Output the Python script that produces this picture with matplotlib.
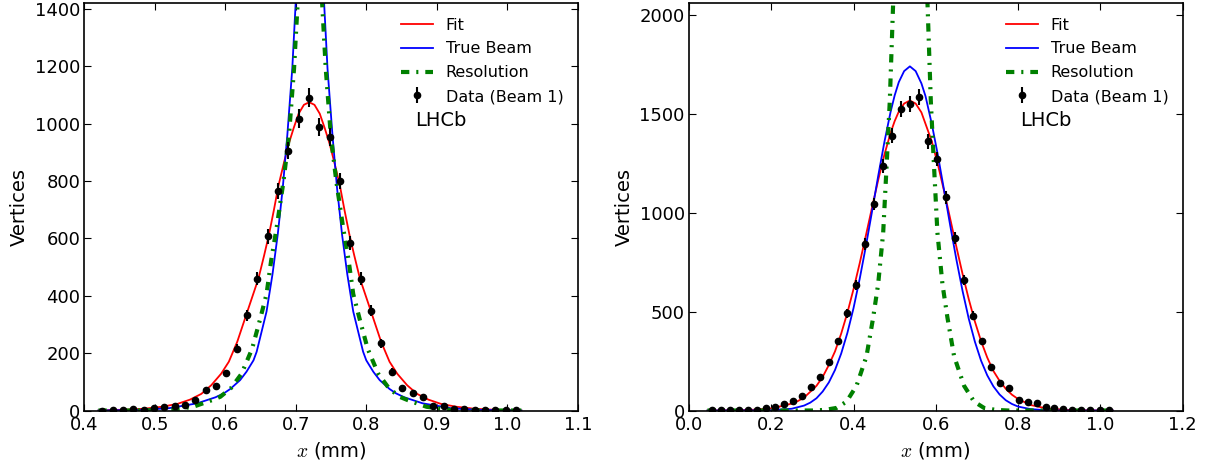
import matplotlib
matplotlib.use("Agg")
import matplotlib.pyplot as plt
import numpy as np

# --- DATA ---
# left panel, data points
left_x = [0.425, 0.440, 0.455, 0.469, 0.484, 0.499, 0.513, 0.528, 0.543, 0.557,
          0.572, 0.587, 0.601, 0.616, 0.631, 0.645, 0.660, 0.675, 0.689, 0.704,
          0.719, 0.733, 0.748, 0.763, 0.777, 0.792, 0.807, 0.821, 0.836, 0.851,
          0.866, 0.880, 0.895, 0.910, 0.924, 0.939, 0.954, 0.968, 0.983, 0.998, 1.013]
left_n = [0, 2, 2, 4, 3, 8, 12, 17, 20, 38,
          70, 85, 130, 216, 332, 460, 607, 766, 906, 1018,
          1091, 988, 954, 801, 583, 460, 348, 235, 136, 79,
          62, 46, 16, 16, 4, 6, 2, 3, 3, 3, 1]

# left panel, curves
fit_l_x = [0.420, 0.429, 0.460, 0.484, 0.510, 0.532, 0.550, 0.566, 0.580, 0.594,
           0.605, 0.617, 0.631, 0.647, 0.655, 0.662, 0.669, 0.6755, 0.683, 0.690,
           0.697, 0.704, 0.7115, 0.719, 0.7265, 0.734, 0.741, 0.748, 0.755, 0.7625,
           0.769, 0.776, 0.783, 0.791, 0.807, 0.821, 0.833, 0.844, 0.858, 0.872,
           0.888, 0.906, 0.928, 0.954, 0.978, 1.009, 1.020]
fit_l_y = [0, 1, 3, 6, 13, 23, 38, 58, 88, 128,
           170, 240, 343, 460, 540, 614, 700, 785, 862, 930,
           985, 1035, 1066, 1075, 1066, 1035, 985, 930, 862, 785,
           700, 614, 540, 460, 343, 240, 170, 128, 88, 58,
           38, 23, 13, 6, 3, 1, 0]

true_l_x = [0.420, 0.480, 0.520, 0.560, 0.586, 0.598, 0.607, 0.621, 0.630, 0.640,
            0.6445, 0.649, 0.6585, 0.667, 0.6744, 0.6815, 0.688, 0.695, 0.6997, 0.708,
            0.720, 0.732, 0.7403, 0.745, 0.752, 0.7585, 0.7656, 0.773, 0.7815, 0.791,
            0.7955, 0.800, 0.810, 0.819, 0.833, 0.842, 0.854, 0.880, 0.920, 0.960, 1.020]
true_l_y = [0, 2, 8, 25, 46, 60, 75, 106, 135, 175,
            205, 250, 345, 476, 614, 776, 961, 1192, 1415, 1900,
            2300, 1900, 1415, 1192, 961, 776, 614, 476, 345, 250,
            205, 175, 135, 106, 75, 60, 46, 25, 8, 2, 0]

res_l_x = [0.420, 0.470, 0.521, 0.5545, 0.581, 0.593, 0.608, 0.623, 0.638, 0.649,
           0.6585, 0.665, 0.6728, 0.6826, 0.6904, 0.6975, 0.7025, 0.710, 0.720, 0.730,
           0.7375, 0.7425, 0.7496, 0.7574, 0.7672, 0.775, 0.7815, 0.791, 0.802, 0.817,
           0.832, 0.847, 0.859, 0.8855, 0.919, 0.970, 1.020]
res_l_y = [0, 0, 2, 13, 36, 48, 78, 128, 215, 315,
           406, 522, 637, 800, 961, 1192, 1415, 2000, 2600, 2000,
           1415, 1192, 961, 800, 637, 522, 406, 315, 215, 128,
           78, 48, 36, 13, 2, 0, 0]

# right panel, data points
right_x = [0.055, 0.077, 0.099, 0.121, 0.143, 0.165, 0.187, 0.208, 0.230, 0.252,
           0.274, 0.296, 0.318, 0.340, 0.362, 0.384, 0.406, 0.428, 0.450, 0.472,
           0.494, 0.516, 0.537, 0.559, 0.581, 0.603, 0.625, 0.647, 0.669, 0.691,
           0.713, 0.735, 0.757, 0.779, 0.801, 0.823, 0.845, 0.867, 0.888, 0.910,
           0.932, 0.954, 0.976, 0.998, 1.020]
right_n = [2, 2, 2, 4, 4, 5, 13, 16, 34, 49,
           72, 117, 168, 247, 350, 492, 637, 843, 1045, 1236,
           1391, 1526, 1551, 1585, 1362, 1274, 1078, 873, 660, 480,
           350, 218, 137, 112, 55, 45, 36, 16, 13, 10,
           5, 5, 5, 5, 2]

# right panel, curves
fit_r_x = [0.045, 0.150, 0.200, 0.250, 0.265, 0.280, 0.295, 0.310, 0.325, 0.340,
           0.355, 0.370, 0.385, 0.400, 0.415, 0.430, 0.445, 0.460, 0.475, 0.490,
           0.500, 0.510, 0.523, 0.537, 0.551, 0.565, 0.575, 0.590, 0.605, 0.620,
           0.635, 0.650, 0.665, 0.680, 0.695, 0.710, 0.725, 0.740, 0.755, 0.770,
           0.785, 0.800, 0.830, 0.870, 0.920, 1.000, 1.030]
fit_r_y = [0, 3, 10, 35, 48, 66, 95, 125, 170, 230,
           299, 389, 494, 614, 745, 885, 1027, 1166, 1294, 1404,
           1464, 1512, 1553, 1568, 1553, 1508, 1450, 1363, 1245, 1111,
           970, 828, 691, 564, 450, 351, 268, 200, 150, 110,
           80, 58, 28, 10, 3, 0, 0]

true_r_x = [0.045, 0.200, 0.250, 0.280, 0.295, 0.310, 0.325, 0.340, 0.355, 0.370,
            0.385, 0.400, 0.415, 0.430, 0.445, 0.460, 0.475, 0.490, 0.500, 0.510,
            0.523, 0.537, 0.551, 0.565, 0.575, 0.590, 0.605, 0.620, 0.635, 0.650,
            0.665, 0.680, 0.695, 0.710, 0.725, 0.740, 0.755, 0.770, 0.785, 0.800,
            0.830, 0.870, 0.920, 1.030]
true_r_y = [0, 1, 9, 25, 40, 62, 96, 142, 205, 288,
            392, 518, 666, 831, 1007, 1187, 1358, 1510, 1594, 1661,
            1717, 1741, 1717, 1655, 1590, 1452, 1292, 1116, 936, 764,
            605, 465, 348, 252, 178, 122, 81, 52, 33, 20,
            7, 1, 0, 0]

res_r_x = [0.045, 0.300, 0.330, 0.3587, 0.383, 0.4073, 0.4316, 0.4478, 0.4599, 0.4721,
           0.4802, 0.4882, 0.4963, 0.510, 0.538, 0.566, 0.5798, 0.5878, 0.5958, 0.6039,
           0.6161, 0.6282, 0.6444, 0.6687, 0.693, 0.7173, 0.746, 0.776, 1.030]
res_r_y = [0, 0, 3, 13, 45, 125, 275, 471, 640, 900,
           1230, 1568, 2060, 3000, 3600, 3000, 2060, 1568, 1230, 900,
           640, 471, 275, 125, 45, 13, 3, 0, 0]

# --- STYLE (old matplotlib look) ---
plt.rcParams['font.family'] = ['DejaVu Sans']
plt.rcParams['mathtext.fontset'] = 'cm'
plt.rcParams['lines.scale_dashes'] = False
plt.rcParams['axes.linewidth'] = 1.2
plt.rcParams['xtick.direction'] = 'in'
plt.rcParams['ytick.direction'] = 'in'
plt.rcParams['xtick.top'] = True
plt.rcParams['ytick.right'] = True
plt.rcParams['xtick.major.size'] = 5
plt.rcParams['ytick.major.size'] = 5
plt.rcParams['xtick.major.pad'] = 4
plt.rcParams['ytick.major.pad'] = 3
plt.rcParams['xtick.labelsize'] = 13
plt.rcParams['ytick.labelsize'] = 13

DASHDOT = (0, (6, 5, 1.5, 5))

fig = plt.figure(figsize=(12.22, 4.65), dpi=100)
ax1 = fig.add_axes([0.069, 0.1172, 0.4038, 0.8757])
ax2 = fig.add_axes([0.5638, 0.1172, 0.404, 0.8757])


def draw_panel(ax, data_x, data_n, fx, fy, tx, ty, rx, ry):
    h_fit, = ax.plot(fx, fy, color='r', lw=1.3, label='Fit')
    h_true, = ax.plot(tx, ty, color='b', lw=1.3, label='True Beam')
    h_res, = ax.plot(rx, ry, color='g', lw=3, linestyle=DASHDOT, label='Resolution')
    h_dat = ax.errorbar(data_x, data_n, yerr=np.sqrt(data_n), fmt='o', color='k',
                        ms=4.5, elinewidth=1.5, capsize=0, label='Data (Beam 1)', zorder=5)
    ax.legend(handles=[h_fit, h_true, h_res, h_dat], loc='upper right', frameon=False,
              numpoints=1, fontsize=11.5, borderaxespad=0.5, labelspacing=0.55,
              handletextpad=0.8)
    ax.text(0.670, 0.713, 'LHCb', transform=ax.transAxes, fontsize=14, va='center', ha='left')
    ax.set_xlabel('$x$ (mm)', fontsize=14)
    ax.set_ylabel('Vertices', fontsize=14)


draw_panel(ax1, left_x, left_n, fit_l_x, fit_l_y, true_l_x, true_l_y, res_l_x, res_l_y)
ax1.set_xlim(0.4, 1.1)
ax1.set_ylim(0, 1420)
ax1.set_xticks(np.arange(0.4, 1.101, 0.1))
ax1.set_xticklabels(['0.4', '0.5', '0.6', '0.7', '0.8', '0.9', '1.0', '1.1'])
ax1.set_yticks(np.arange(0, 1401, 200))

draw_panel(ax2, right_x, right_n, fit_r_x, fit_r_y, true_r_x, true_r_y, res_r_x, res_r_y)
ax2.set_xlim(0.0, 1.2)
ax2.set_ylim(0, 2060)
ax2.set_xticks(np.arange(0.0, 1.201, 0.2))
ax2.set_xticklabels(['0.0', '0.2', '0.4', '0.6', '0.8', '1.0', '1.2'])
ax2.set_yticks(np.arange(0, 2001, 500))

fig.savefig('out.png', dpi=100)
